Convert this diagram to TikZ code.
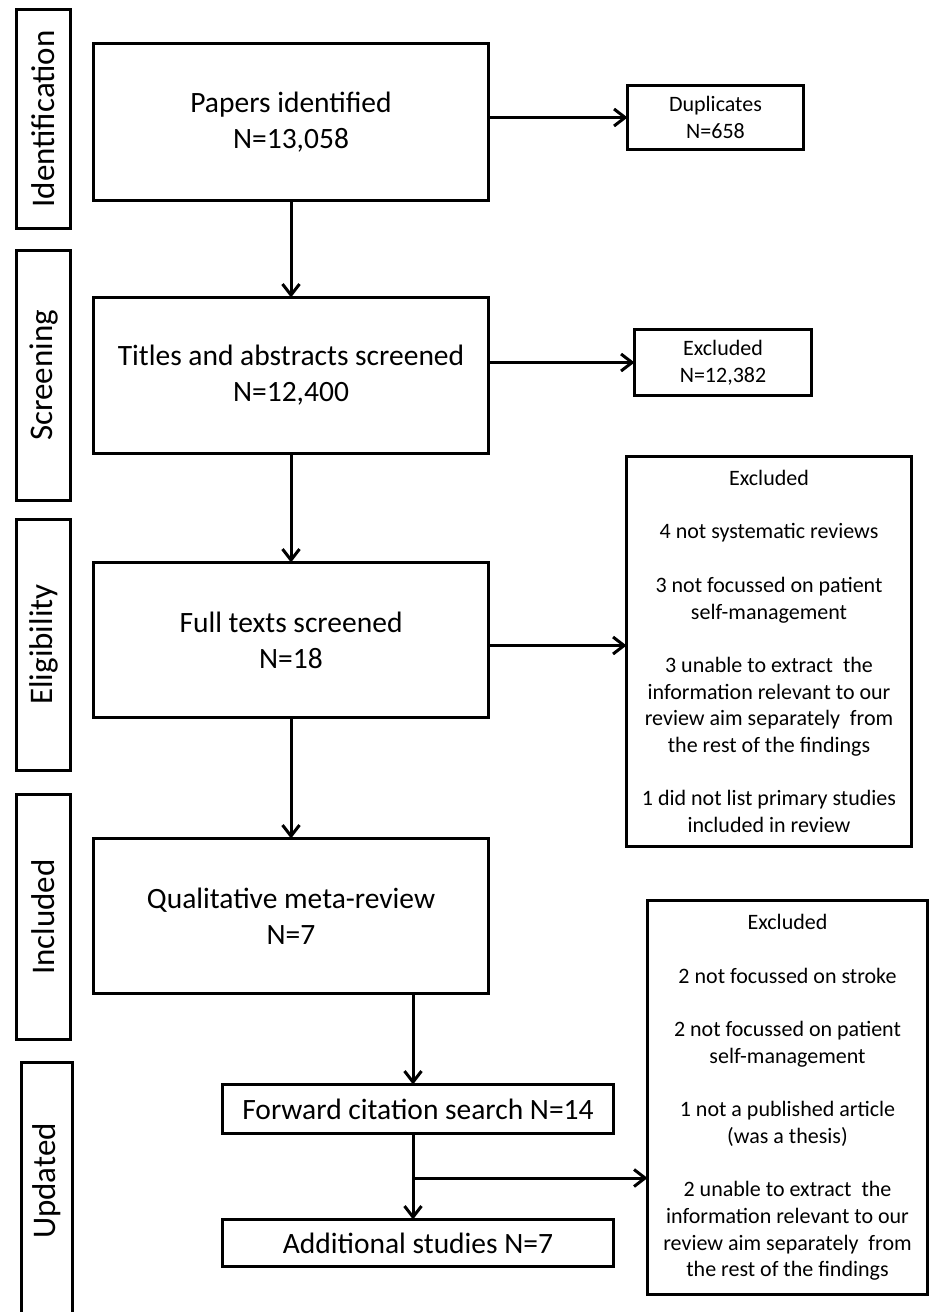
\documentclass[tikz,border=0pt]{standalone}
\usepackage{fontspec}
\setmainfont{Carlito}
\usetikzlibrary{arrows.meta}
\begin{document}
\begin{tikzpicture}[x=1pt,y=-1pt,
  every node/.style={inner sep=0pt, outer sep=0pt},
  boxline/.style={draw=black, line width=3pt, rectangle, align=center},
  mainbox/.style={boxline, font=\fontsize{29.5}{36}\selectfont, minimum width=395pt},
  smallbox/.style={boxline, font=\fontsize{22}{26.7}\selectfont},
  stagebox/.style={boxline, rotate=90, font=\fontsize{33}{40}\selectfont, minimum height=54pt},
  arr/.style={line width=3pt, -{Straight Barb[length=11pt,width=17pt]}}
]
\useasboundingbox (0,0) rectangle (930,1312);
\fill[white] (0,0) rectangle (930,1312);
\clip (0,0) rectangle (930,1312);

% stage labels
\node[stagebox, minimum width=219pt] (sid) at (43.5,119) {Identification};
\node[stagebox, minimum width=250pt] (ssc) at (43.5,375.5) {Screening};
\node[stagebox, minimum width=251pt] (sel) at (43.5,644.5) {Eligibility};
\node[stagebox, minimum width=245pt] (sin) at (43.5,917) {Included};
\node[stagebox, draw=none, minimum width=237pt, minimum height=51pt] (sup) at (47,1181) {Updated};
\draw[line width=3pt] (21.5,1340) rectangle (72.5,1062.5);

% main boxes
\node[mainbox, minimum height=157pt] (papers) at (291,122) {Papers identified\\N=13,058};
\node[mainbox, minimum height=156pt] (titles) at (291,375.5) {Titles and abstracts screened\\N=12,400};
\node[mainbox, minimum height=155pt] (full) at (291,640) {Full texts screened\\N=18};
\node[mainbox, minimum height=155pt] (qual) at (291,916) {Qualitative meta-review\\N=7};
\node[mainbox, minimum width=391pt, minimum height=49pt] (fwd) at (418,1109) {Forward citation search N=14};
\node[mainbox, minimum width=391pt, minimum height=47pt] (add) at (418,1243) {Additional studies N=7};

% side boxes
\node[smallbox, minimum width=176pt, minimum height=64pt] (dup) at (715.5,117.5) {Duplicates\\N=658};
\node[smallbox, minimum width=177pt, minimum height=66pt] (exa) at (723,362.5) {Excluded\\N=12,382};
\node[smallbox, minimum width=285pt, minimum height=390pt] (exb) at (769,651.5) {Excluded\\[26.7pt]
4 not systematic reviews\\[26.7pt]
3 not focussed on patient\\self-management\\[26.7pt]
3 unable to extract\ \ the\\information relevant to our\\review aim separately\ \ from\\the rest of the findings\\[26.7pt]
1 did not list primary studies\\included in review};
\node[smallbox, minimum width=280pt, minimum height=394pt] (exc) at (787.5,1097.5) {Excluded\\[26.7pt]
2 not focussed on stroke\\[26.7pt]
2 not focussed on patient\\self-management\\[26.7pt]
1 not a published article\\(was a thesis)\\[26.7pt]
2 unable to extract\ \ the\\information relevant to our\\review aim separately\ \ from\\the rest of the findings};

% connectors
\draw[arr] (papers.south) -- (titles.north);
\draw[arr] (titles.south) -- (full.north);
\draw[arr] (full.south) -- (qual.north);
\draw[arr] (papers.east |- dup.west) -- (dup.west);
\draw[arr] (titles.east |- exa.west) -- (exa.west);
\coordinate (f1) at ([yshift=-5.5pt]full.east);
\draw[arr] (f1) -- (f1 -| exb.west);
\draw[arr] ([xshift=-5pt]fwd.north |- qual.south) -- ([xshift=-5pt]fwd.north);
\draw[arr] ([xshift=-5pt]fwd.south) -- ([xshift=-5pt]add.north);
\coordinate (br) at (413,1178);
\draw[arr] (br) -- (br -| exc.west);
\end{tikzpicture}
\end{document}
